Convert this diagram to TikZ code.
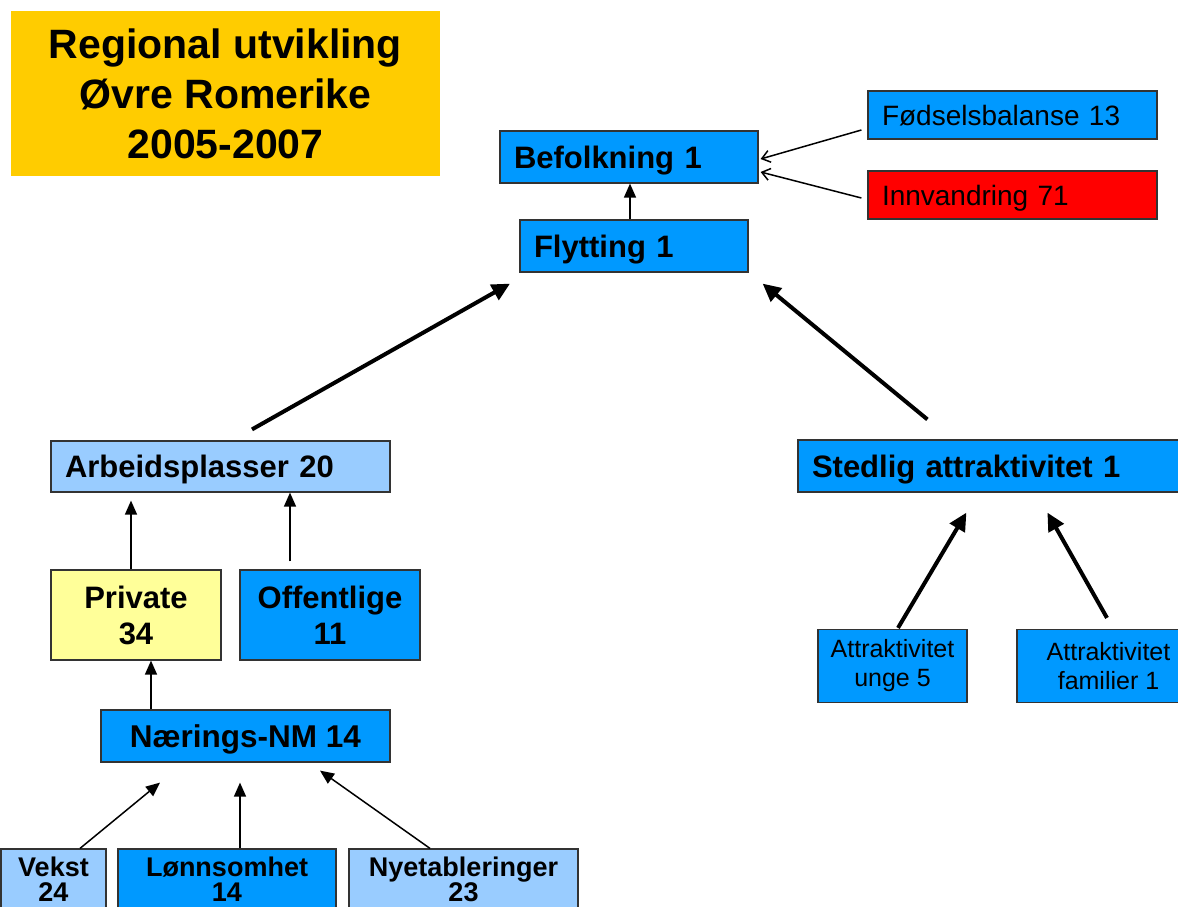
\documentclass[tikz,border=0pt]{standalone}
\usepackage{fontspec}
\setmainfont{Liberation Sans}
\usetikzlibrary{arrows.meta,calc}

\definecolor{boksblaa}{RGB}{0,153,255}
\definecolor{lysblaa}{RGB}{153,204,255}
\definecolor{lysgul}{RGB}{255,255,153}
\definecolor{gull}{RGB}{255,204,0}

\tikzset{
  boks/.style={draw=black!80, line width=1.2pt, inner sep=0pt, fill=boksblaa,
    font=\bfseries\fontsize{31}{36}\selectfont},
  enlinje/.style={text height=22pt, text depth=0pt},
  vboks/.style={boks, enlinje, align=left, inner xsep=14pt},
  liten/.style={boks, align=center, font=\fontsize{25}{29}\selectfont},
  tynn/.style={line width=1.5pt, -{Triangle[length=14pt,width=12pt]}},
  aapen/.style={line width=1.5pt, -{Straight Barb[length=8pt,width=12pt]}},
  tykk/.style={line width=4pt, -{Triangle[length=18pt,width=17pt]}}
}

\begin{document}
\begin{tikzpicture}[x=1pt, y=-1pt]

  \useasboundingbox (0,0) rectangle (1178,906);
  \clip (0,0) rectangle (1178,906);

  % Tittel
  \node[fill=gull, minimum width=429, minimum height=165, align=center,
        font=\bfseries\fontsize{41}{50}\selectfont] (tittel) at (225.5,93.5)
    {Regional utvikling\\Øvre Romerike\\2005-2007};

  % Befolkning og flytting
  \node[vboks, text width=230, minimum height=52] (befolk) at (629,157) {Befolkning 1};
  \node[vboks, text width=200, minimum height=52] (flytt) at (634,246) {Flytting 1};
  \node[vboks, text width=261, minimum height=48, text height=20pt, font=\fontsize{28}{32}\selectfont]
    (fodsel) at (1012.5,115) {Fødselsbalanse 13};
  \node[vboks, text width=261, minimum height=48, text height=20pt, fill=red, font=\fontsize{28}{32}\selectfont]
    (innv) at (1012.5,195) {Innvandring 71};

  % Arbeid og bosted
  \node[vboks, text width=311, minimum height=51, fill=lysblaa] (arb) at (220.5,466.5) {Arbeidsplasser 20};
  \node[vboks, text width=374, minimum height=52] (stedlig) at (999,466) {Stedlig attraktivitet 1};

  \node[boks, align=center, minimum width=170, minimum height=90, fill=lysgul]
    (private) at (136,615) {Private\\34};
  \node[boks, align=center, minimum width=180, minimum height=90]
    (offentl) at (330,615) {Offentlige\\11};
  \node[boks, enlinje, minimum width=289, minimum height=52, font=\bfseries\fontsize{31.5}{36}\selectfont]
    (naering) at (245.5,736) {Nærings-NM 14};

  % Nederste rad
  \node[boks, align=center, minimum width=105, minimum height=60, fill=lysblaa,
        font=\bfseries\fontsize{27}{25}\selectfont] (vekst) at (53.5,879) {Vekst\\24};
  \node[boks, align=center, minimum width=218, minimum height=60,
        font=\bfseries\fontsize{27}{25}\selectfont] (lonn) at (227,879) {Lønnsomhet\\14};
  \node[boks, align=center, minimum width=229, minimum height=60, fill=lysblaa,
        font=\bfseries\fontsize{27}{25}\selectfont] (nyet) at (463.5,879) {Nyetableringer\\23};

  \node[liten, minimum width=149, minimum height=73] (unge) at (892.5,666) {Attraktivitet\\unge 5};
  \node[liten, minimum width=183, minimum height=73] (famil) at (1108.5,666) {Attraktivitet\\familier 1};

  % Piler
  \draw[aapen] ($(fodsel.west)+(-6,15)$) -- ($(befolk.east)+(2,2)$);
  \draw[aapen] ($(innv.west)+(-6,3)$) -- ($(befolk.east)+(2,15)$);
  \draw[tynn] ($(flytt.north)+(-4,0)$) -- ($(flytt.north |- befolk.south)+(-4,0)$);

  \draw[tykk] ($(arb.north)+(31.5,-11)$) -- ($(flytt.south)+(-124,11)$);
  \draw[tykk] ($(stedlig.north west)+(130,-20)$) -- ($(flytt.south east)+(14,11)$);

  \draw[tynn] ($(private.north)+(-5,0)$) -- ($(private.north |- arb.south)+(-5,8)$);
  \draw[tynn] ($(offentl.north)+(-40,-8)$) -- ($(offentl.north |- arb.south)+(-40,0)$);
  \draw[tynn] ($(naering.north)+(-94.5,0)$) -- ($(naering.north |- private.south)+(-94.5,0)$);

  \draw[tynn] ($(vekst.north)+(26.5,0)$) -- ($(naering.south)+(-85.5,20)$);
  \draw[tynn] ($(lonn.north)+(13,0)$) -- ($(naering.south)+(-5.5,20)$);
  \draw[tynn] ($(nyet.north)+(-33.5,0)$) -- ($(naering.south)+(74.5,8)$);

  \draw[tykk] ($(unge.north)+(5.5,-1)$) -- ($(stedlig.south west)+(169,20)$);
  \draw[tykk] ($(famil.north)+(-1.5,-11)$) -- ($(stedlig.south west)+(250,20)$);

\end{tikzpicture}
\end{document}
